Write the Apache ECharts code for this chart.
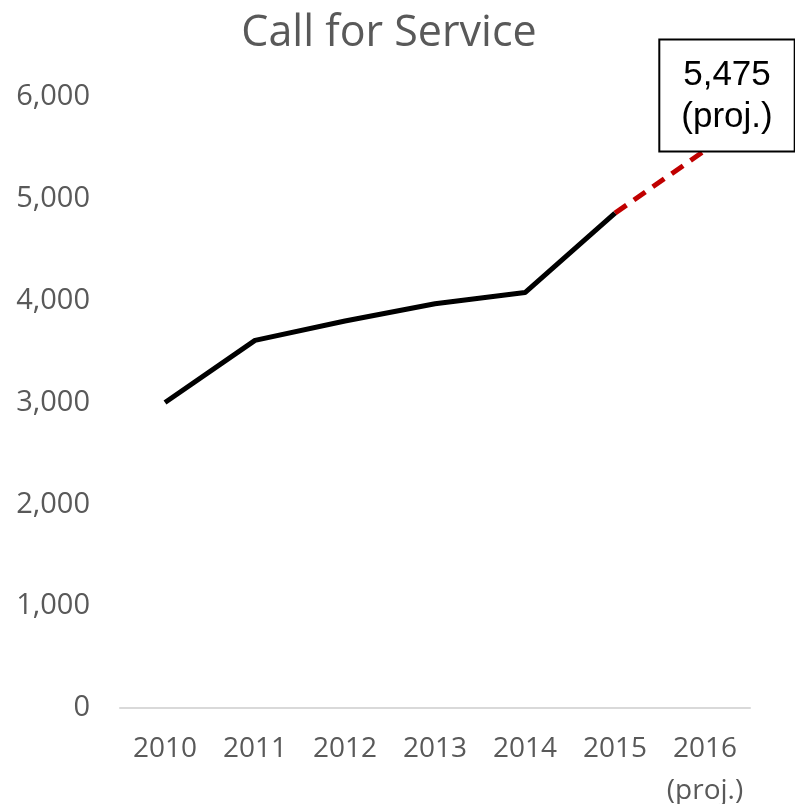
<!doctype html>
<html>
<head>
<meta charset="utf-8">
<title>Call for Service</title>
<script src="https://cdn.jsdelivr.net/npm/echarts@6/dist/echarts.min.js"></script>
<style>
  html, body { margin: 0; padding: 0; background: #fff; }
  #chart { width: 795px; height: 804px; }
</style>
</head>
<body>
<div id="chart"></div>
<script>
// data
var years = ['2010', '2011', '2012', '2013', '2014', '2015', '2016\n(proj.)'];
var actual = [3000, 3610, 3800, 3970, 4080, 4860, null];
var projected = [null, null, null, null, null, 4860, 5475];
var projLabel = '5,475\n(proj.)';

var chart = echarts.init(document.getElementById('chart'));

// only the last projected point carries the boxed label
var projData = projected.map(function (v, i) {
  if (i !== projected.length - 1) return v;
  return {
    value: v,
    label: {
      show: true,
      position: 'top',
      distance: 0,
      offset: [22, 0],
      formatter: projLabel,
      fontFamily: 'Liberation Sans',
      fontSize: 35,
      lineHeight: 42,
      color: '#000',
      backgroundColor: '#fff',
      borderColor: '#000',
      borderWidth: 2,
      padding: [14, 21, 12, 21],
      align: 'center'
    }
  };
});

var option = {
  animation: false,
  title: {
    text: 'Call for Service',
    left: 384,
    top: 7,
    textAlign: 'center',
    textStyle: { fontFamily: 'Open Sans', fontSize: 43, fontWeight: 'normal', color: '#595959' }
  },
  grid: { left: 120, right: 45, top: 97, bottom: 96, outerBoundsMode: 'none', containLabel: false },
  xAxis: {
    type: 'category',
    data: years,
    boundaryGap: true,
    axisLine: { lineStyle: { color: '#d9d9d9', width: 2 } },
    axisTick: { show: false },
    axisLabel: {
      color: '#595959', fontFamily: 'Open Sans', fontSize: 28,
      lineHeight: 42, margin: 20, interval: 0
    }
  },
  yAxis: {
    type: 'value',
    min: 0, max: 6000, interval: 1000,
    axisLine: { show: false },
    axisTick: { show: false },
    splitLine: { show: false },
    axisLabel: {
      color: '#595959', fontFamily: 'Open Sans', fontSize: 29, margin: 30,
      formatter: function (v) { return v.toLocaleString('en-US'); }
    }
  },
  series: [
    {
      type: 'line',
      data: actual,
      symbol: 'none',
      lineStyle: { color: '#000', width: 5 },
      z: 3
    },
    {
      type: 'line',
      data: projData,
      symbol: 'circle',
      symbolSize: 0,
      showSymbol: true,
      itemStyle: { color: 'rgba(0,0,0,0)' },
      lineStyle: { color: '#c00000', width: 5, type: [14, 9] },
      z: 2
    }
  ]
};

chart.setOption(option);
</script>
</body>
</html>
